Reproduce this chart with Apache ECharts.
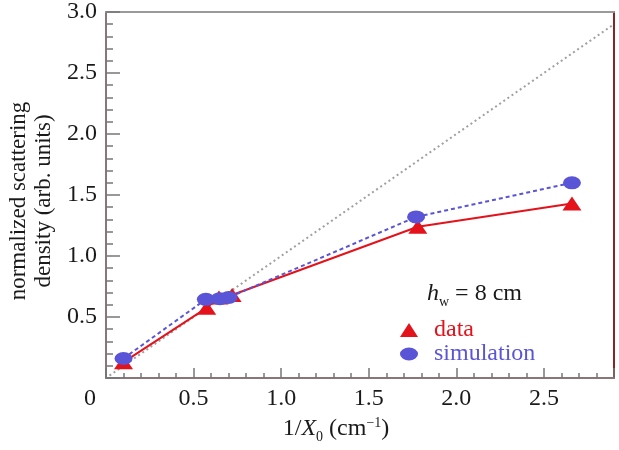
<!DOCTYPE html>
<html>
<head>
<meta charset="utf-8">
<script src="https://cdn.jsdelivr.net/npm/echarts@6/dist/echarts.min.js"></script>
<style>html,body{margin:0;padding:0;background:#fff}#c{width:619px;height:450px}</style>
</head>
<body>
<div id="c"></div>
<script>
const dataX = [0.10, 0.575, 0.645, 0.72, 1.78, 2.66];
const dataY = [0.13, 0.575, 0.66, 0.68, 1.24, 1.43];
const simX = [0.10, 0.57, 0.65, 0.70, 1.77, 2.66];
const simY = [0.16, 0.645, 0.65, 0.66, 1.32, 1.60];
const refX = [0.02, 2.9];
const refY = [0.02, 2.9];
const xTickLabels = {0: '0', 0.5: '0.5', 1: '1.0', 1.5: '1.5', 2: '2.0', 2.5: '2.5'};
const yTickLabels = {0.5: '0.5', 1: '1.0', 1.5: '1.5', 2: '2.0', 2.5: '2.5', 3: '3.0'};
const seriesNames = ['data', 'simulation'];

const FONT = 'Liberation Serif';
const RED = '#e3121b';
const BLUE = '#5a55d6';
const ELLIPSE = 'path://M0,6.5A9,6.5 0 1,0 18,6.5A9,6.5 0 1,0 0,6.5Z';

const pairs = (xs, ys) => xs.map((x, i) => [x, ys[i]]);

const chart = echarts.init(document.getElementById('c'), null, {renderer: 'canvas'});
chart.setOption({
  animation: false,
  backgroundColor: '#fff',
  grid: {left: 106, right: 5, top: 11, bottom: 72, containLabel: false},
  xAxis: [{
    type: 'value', min: 0, max: 2.9, interval: 0.5,
    axisLine: {show: true, lineStyle: {color: '#8a7676', width: 2}},
    axisTick: {show: true, inside: true, length: 10, lineStyle: {color: '#777', width: 1.5}},
    minorTick: {show: true, splitNumber: 5, length: 5, lineStyle: {color: '#777', width: 1.5}},
    splitLine: {show: false},
    axisLabel: {
      margin: 9, fontFamily: FONT, fontSize: 24, color: '#1a1a1a',
      formatter: v => v === 0 ? '{z|0}' : (xTickLabels[v] || ''),
      rich: {z: {fontFamily: FONT, fontSize: 24, color: '#1a1a1a', padding: [0, 32, 0, 0]}}
    }
  }, {
    type: 'value', position: 'top', min: 0, max: 2.9,
    axisLine: {show: true, onZero: false, lineStyle: {color: '#9a9a9a', width: 2}},
    axisTick: {show: false}, minorTick: {show: false}, axisLabel: {show: false}, splitLine: {show: false}
  }],
  yAxis: [{
    type: 'value', min: 0, max: 3, interval: 0.5,
    axisLine: {show: true, lineStyle: {color: '#8a7676', width: 2}},
    axisTick: {show: true, inside: true, length: 14, lineStyle: {color: '#777', width: 1.5}},
    minorTick: {show: true, splitNumber: 5, length: 7, lineStyle: {color: '#777', width: 1.5}},
    splitLine: {show: false},
    axisLabel: {
      margin: 9, fontFamily: FONT, fontSize: 24, color: '#1a1a1a',
      formatter: v => yTickLabels[v] || ''
    }
  }, {
    type: 'value', position: 'right', min: 0, max: 3,
    axisLine: {show: true, onZero: false, lineStyle: {color: '#8b2323', width: 2}},
    axisTick: {show: false}, minorTick: {show: false}, axisLabel: {show: false}, splitLine: {show: false}
  }],
  legend: {
    orient: 'vertical', left: 395, top: 313,
    itemWidth: 18, itemHeight: 14, itemGap: 0,
    textStyle: {fontFamily: FONT, fontSize: 24, lineHeight: 23, padding: [0, 0, 0, 11]},
    data: [
      {name: seriesNames[0], icon: 'triangle', textStyle: {color: RED}},
      {name: seriesNames[1], icon: ELLIPSE, textStyle: {color: BLUE}}
    ]
  },
  graphic: [
    {
      type: 'text', rotation: Math.PI / 2, x: 31, y: 201,
      style: {
        text: 'normalized scattering\ndensity (arb. units)',
        fontFamily: FONT, fontSize: 23, lineHeight: 25, fill: '#1a1a1a',
        align: 'center', verticalAlign: 'middle'
      }
    },
    {
      type: 'text', x: 336, y: 429,
      style: {
        text: '{n|1/}{i|X}{s|0}{n| (cm}{p|\u22121}{n|)}',
        align: 'center', verticalAlign: 'middle',
        rich: {
          n: {fontFamily: FONT, fontSize: 24, fill: '#1a1a1a'},
          i: {fontFamily: FONT, fontSize: 24, fontStyle: 'italic', fill: '#1a1a1a'},
          s: {fontFamily: FONT, fontSize: 14, fill: '#1a1a1a', padding: [16, 0, 0, 0]},
          p: {fontFamily: FONT, fontSize: 14, fill: '#1a1a1a', padding: [0, 0, 12, 0]}
        }
      }
    },
    {
      type: 'text', x: 427, y: 294,
      style: {
        text: '{i|h}{s|w}{n| = 8 cm}',
        align: 'left', verticalAlign: 'middle',
        rich: {
          n: {fontFamily: FONT, fontSize: 24, fill: '#1a1a1a'},
          i: {fontFamily: FONT, fontSize: 24, fontStyle: 'italic', fill: '#1a1a1a'},
          s: {fontFamily: FONT, fontSize: 14, fill: '#1a1a1a', padding: [16, 0, 0, 0]}
        }
      }
    }
  ],
  series: [
    {
      type: 'line', name: 'ref', data: pairs(refX, refY), symbol: 'none', silent: true,
      lineStyle: {color: '#a0a0a0', width: 2, type: [2, 3]}, z: 1
    },
    {
      type: 'line', name: seriesNames[0], data: pairs(dataX, dataY),
      symbol: 'triangle', symbolSize: [19, 14],
      itemStyle: {color: RED}, lineStyle: {color: RED, width: 2}, z: 3
    },
    {
      type: 'line', name: seriesNames[1], data: pairs(simX, simY),
      symbol: ELLIPSE, symbolSize: [18, 13],
      itemStyle: {color: BLUE}, lineStyle: {color: BLUE, width: 2, type: [4, 3]}, z: 4
    }
  ]
});
</script>
</body>
</html>
